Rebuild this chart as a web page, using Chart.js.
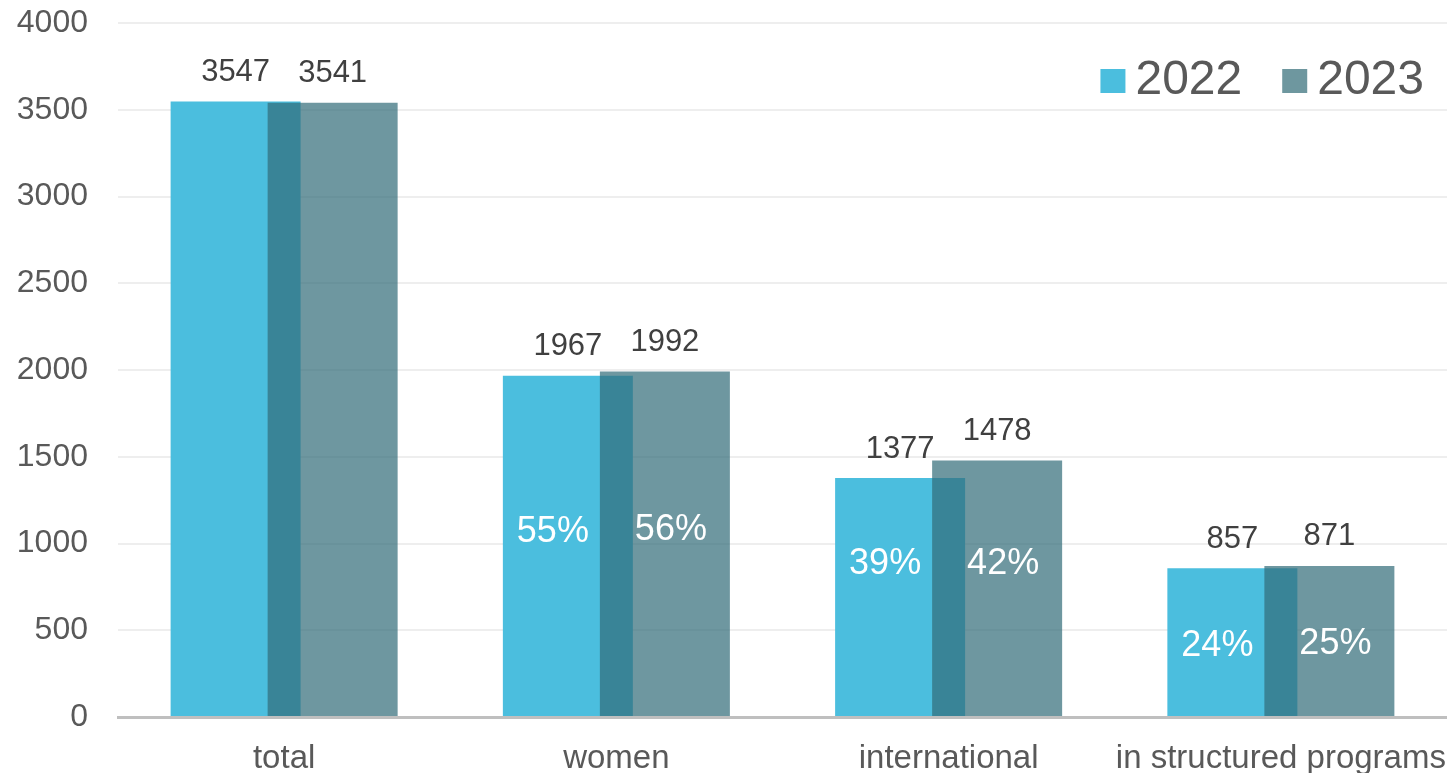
<!DOCTYPE html>
<html>
<head>
<meta charset="utf-8">
<script src="https://cdn.jsdelivr.net/npm/chart.js@4"></script>
<style>
  html, body { margin: 0; padding: 0; background: #fff; }
  #wrap { width: 1447px; height: 773px; }
</style>
</head>
<body>
<div id="wrap"><canvas id="myChart" width="1447" height="773"></canvas></div>
<script>
// data
var categories = ["total", "women", "international", "in structured programs"];
var years = ["2022", "2023"];
var values2022 = [3547, 1967, 1377, 857];
var values2023 = [3541, 1992, 1478, 871];
var share2022 = [null, "55%", "39%", "24%"];
var share2023 = [null, "56%", "42%", "25%"];
// height (in axis units) where the share labels sit
var shareAt2022 = [null, 1065, 880, 410];
var shareAt2023 = [null, 1078, 880, 422];
var yTicks = [0, 500, 1000, 1500, 2000, 2500, 3000, 3500, 4000];

var FONT = "'Liberation Sans', Arial, sans-serif";

// draw 2022 first so the translucent 2023 bars sit on top of it
var drawOrderPlugin = {
    id: "drawOrder",
    beforeDatasetsDraw: function (chart) {
        var area = chart.chartArea;
        var ctx = chart.ctx;
        ctx.save();
        ctx.beginPath();
        ctx.rect(area.left, area.top - 40, area.right - area.left, area.bottom - area.top + 40);
        ctx.clip();
        chart.data.datasets.forEach(function (ds, i) {
            chart.getDatasetMeta(i).controller.draw();
        });
        ctx.restore();
        return false;
    }
};

// value labels above bars + percentages inside
var labelPlugin = {
    id: "labels",
    afterDraw: function (chart) {
        var ctx = chart.ctx;
        var y = chart.scales.y;
        ctx.save();
        ctx.textAlign = "center";
        ctx.textBaseline = "middle";
        chart.data.datasets.forEach(function (ds, di) {
            var meta = chart.getDatasetMeta(di);
            var shares = di == 0 ? share2022 : share2023;
            var at = di == 0 ? shareAt2022 : shareAt2023;
            meta.data.forEach(function (bar, i) {
                ctx.fillStyle = "#404040";
                ctx.font = "31px " + FONT;
                ctx.fillText(ds.data[i], bar.x, bar.y - 29);
                if (shares[i]) {
                    ctx.fillStyle = "#ffffff";
                    ctx.font = "36px " + FONT;
                    ctx.fillText(shares[i], bar.x + (di == 0 ? -15 : 6), y.getPixelForValue(at[i]));
                }
            });
        });
        ctx.restore();
    }
};

// legend drawn in the upper right corner of the plot
var legendPlugin = {
    id: "cornerLegend",
    afterDraw: function (chart) {
        var ctx = chart.ctx;
        ctx.save();
        ctx.font = "48px " + FONT;
        ctx.textBaseline = "middle";
        ctx.textAlign = "left";
        var x = chart.width - 23;
        var cy = 81;
        var items = chart.data.datasets.slice().reverse();
        items.forEach(function (ds) {
            var w = ctx.measureText(ds.label).width;
            x -= w;
            ctx.fillStyle = "#595959";
            ctx.fillText(ds.label, x, cy);
            x -= 10 + 25;
            ctx.fillStyle = ds.legendColor;
            ctx.fillRect(x, cy - 12, 25, 24);
            x -= 40;
        });
        ctx.restore();
    }
};

var ctx = document.getElementById("myChart").getContext("2d");
var chart = new Chart(ctx, {
    type: "bar",
    data: {
        labels: categories,
        datasets: [
            {
                label: years[0],
                data: values2022,
                backgroundColor: "#4BBEDE",
                legendColor: "#4BBEDE",
                categoryPercentage: 0.584,
                barPercentage: 1.34
            },
            {
                label: years[1],
                data: values2023,
                backgroundColor: "rgba(51,108,121,0.71)",
                legendColor: "#6E979F",
                categoryPercentage: 0.584,
                barPercentage: 1.34
            }
        ]
    },
    options: {
        responsive: false,
        animation: false,
        layout: { padding: { top: 23, right: 0, left: 0, bottom: 0 } },
        plugins: {
            legend: { display: false },
            tooltip: { enabled: false }
        },
        scales: {
            x: {
                grid: { display: false, drawTicks: false },
                border: { display: true, color: "#BFBFBF", width: 3 },
                ticks: {
                    color: "#595959",
                    font: { family: FONT, size: 33 },
                    padding: 22,
                    maxRotation: 0,
                    autoSkip: false
                },
                afterFit: function (s) {
                    s.height = 56;
                    s.paddingLeft = 0;
                    s.paddingRight = 0;
                }
            },
            y: {
                min: 0,
                max: 4000,
                afterBuildTicks: function (s) {
                    s.ticks = yTicks.map(function (v) { return { value: v }; });
                },
                grid: { color: "#EEEEEE", lineWidth: 2, drawTicks: false },
                border: { display: false },
                ticks: {
                    color: "#595959",
                    font: { family: FONT, size: 32 },
                    padding: 30,
                    callback: function (v) { return String(v); }
                },
                afterFit: function (s) {
                    s.width = 118;
                    s.paddingTop = 0;
                    s.paddingBottom = 0;
                }
            }
        }
    },
    plugins: [drawOrderPlugin, labelPlugin, legendPlugin]
});
</script>
</body>
</html>
